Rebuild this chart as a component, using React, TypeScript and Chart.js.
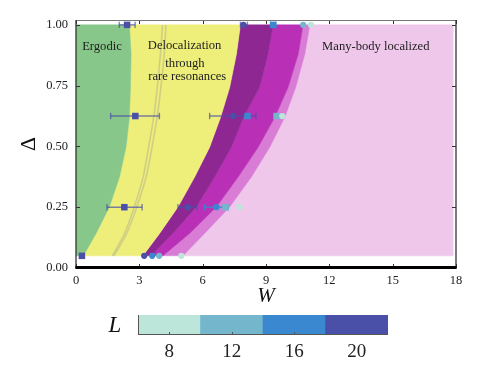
import React, { useEffect, useRef } from 'react';
import { Chart, registerables } from 'chart.js';
Chart.register(...registerables);

// ---- data ----
const deltaLevels = [0.05, 0.142, 0.251, 0.374, 0.497, 0.62, 0.743, 0.88, 1.0];
const ergodicEdgeW = [0.35, 0.95, 1.58, 2.06, 2.37, 2.53, 2.58, 2.61, 2.53];
const rareEdgeW = [3.17, 3.96, 4.83, 5.62, 6.33, 6.85, 7.28, 7.6, 7.79];
const mbl20EdgeW = [3.56, 4.59, 5.7, 6.57, 7.36, 7.94, 8.7, 9.1, 9.34];
const mbl16EdgeW = [4.12, 5.38, 6.65, 7.68, 8.63, 9.42, 10.05, 10.53, 10.76];
const mbl12EdgeW = [5.07, 6.09, 7.28, 8.31, 9.18, 9.89, 10.41, 10.84, 11.08];
const plotRightW = 17.85;
const grayLineAW = [1.72, 2.3, 2.76, 3.18, 3.44, 3.68, 3.85, 4.0, 4.1];
const grayLineBW = [1.8, 2.4, 2.88, 3.32, 3.6, 3.84, 4.02, 4.18, 4.26];

const sizes = [8, 12, 16, 20];
const sizeColors = ['#bbe6d9', '#74b7cc', '#3a88d0', '#4a4fa8'];

// markers: [W, Delta]
const l20Squares = [[0.28, 0.05], [2.29, 0.25], [2.81, 0.625], [2.42, 1.0]];
const l20Circles = [[3.23, 0.05], [5.29, 0.25], [7.44, 0.625], [7.93, 1.0]];
const l16Circles = [[3.61, 0.05], [6.65, 0.25]];
const l16Squares = [[8.12, 0.625], [9.34, 1.0]];
const l12Circles = [[3.94, 0.05], [10.76, 1.0]];
const l12Squares = [[7.08, 0.25], [9.5, 0.625]];
const l8Circles = [[4.99, 0.05], [7.75, 0.25], [9.77, 0.625], [11.13, 1.0]];

// error bars: [Wlow, Whigh, Delta]
const l20ErrBars = [[2.05, 2.8, 1.0], [1.64, 3.95, 0.625], [1.47, 3.13, 0.25], [7.79, 8.12, 1.0], [6.33, 8.52, 0.625], [4.83, 5.73, 0.25]];
const l16ErrBars = [[9.22, 9.46, 1.0], [6.09, 7.2, 0.25]];

const xTickValues = [0, 3, 6, 9, 12, 15, 18];
const yTickValues = [0, 0.25, 0.5, 0.75, 1.0];

const regionColors = ['#87c78a', '#eeee7a', '#8e2791', '#b92fb6', '#d97cd6', '#efc7eb'];
const regionLabels = ['Ergodic', 'Delocalization', 'through', 'rare resonances', 'Many-body localized'];
const regionLabelW = [1.23, 5.14, 5.16, 5.27, 14.2];
const regionLabelDelta = [0.911, 0.913, 0.842, 0.787, 0.91];

const SERIF = '"Liberation Serif", "DejaVu Serif", serif';

const edge = (ws: number[]) => ws.map((w, i) => ({ x: w, y: deltaLevels[i] }));
const closeShape = (pts: { x: number; y: number }[]) => [...pts, pts[0]];

function buildRegions() {
  const lo = deltaLevels[0];
  const hi = deltaLevels[deltaLevels.length - 1];
  const shapes = [
    closeShape([{ x: 0, y: lo }, ...edge(ergodicEdgeW), { x: 0, y: hi }]),
    closeShape([...edge(ergodicEdgeW), ...edge(rareEdgeW).reverse()]),
    closeShape([...edge(rareEdgeW), ...edge(mbl20EdgeW).reverse()]),
    closeShape([...edge(mbl20EdgeW), ...edge(mbl16EdgeW).reverse()]),
    closeShape([...edge(mbl16EdgeW), ...edge(mbl12EdgeW).reverse()]),
    closeShape([...edge(mbl12EdgeW), { x: plotRightW, y: hi }, { x: plotRightW, y: lo }]),
  ];
  return shapes.map((data, i) => ({
    data,
    fill: 'shape',
    backgroundColor: regionColors[i],
    borderColor: regionColors[i],
    borderWidth: 0.5,
    pointRadius: 0,
    tension: 0,
    order: 20,
  }));
}

function markerSet(pts: number[][], color: string, style: string) {
  return {
    data: pts.map(([x, y]) => ({ x, y })),
    showLine: false,
    pointStyle: style,
    pointRadius: style === 'rect' ? 4.6 : 3.1,
    backgroundColor: color,
    borderColor: color,
    borderWidth: 0,
    order: 1,
  };
}

function errSets(bars: number[][], color: string) {
  return bars.map(([a, b, y]) => ({
    data: [{ x: a, y }, { x: b, y }],
    borderColor: color,
    backgroundColor: color,
    borderWidth: 1.4,
    pointStyle: 'line',
    rotation: 90,
    pointRadius: 3.2,
    pointBorderWidth: 1.4,
    fill: false,
    order: 3,
  }));
}

const mainOverlay = {
  id: 'mainOverlay',
  afterDatasetsDraw(chart: any) {
    const { ctx, chartArea: a, scales } = chart;
    const x = scales.x, y = scales.y;
    ctx.save();
    // region labels
    ctx.fillStyle = '#222';
    ctx.font = `12.6px ${SERIF}`;
    ctx.textAlign = 'center';
    ctx.textBaseline = 'middle';
    regionLabels.forEach((t, i) => {
      ctx.fillText(t, x.getPixelForValue(regionLabelW[i]), y.getPixelForValue(regionLabelDelta[i]));
    });
    // inward ticks
    ctx.strokeStyle = '#333';
    ctx.lineWidth = 1;
    const tl = 4;
    ctx.beginPath();
    xTickValues.forEach((v) => {
      const px = Math.round(x.getPixelForValue(v)) + 0.5;
      ctx.moveTo(px, a.bottom); ctx.lineTo(px, a.bottom - tl);
      ctx.moveTo(px, a.top); ctx.lineTo(px, a.top + tl);
    });
    yTickValues.forEach((v) => {
      const py = Math.round(y.getPixelForValue(v)) + 0.5;
      ctx.moveTo(a.left, py); ctx.lineTo(a.left + tl, py);
      ctx.moveTo(a.right, py); ctx.lineTo(a.right - tl, py);
    });
    ctx.stroke();
    // frame
    ctx.strokeStyle = '#777';
    ctx.lineWidth = 1;
    ctx.beginPath();
    ctx.moveTo(a.left, a.top + 0.5); ctx.lineTo(a.right, a.top + 0.5);
    ctx.stroke();
    ctx.strokeStyle = '#333';
    ctx.lineWidth = 1.3;
    ctx.beginPath();
    ctx.moveTo(a.left, a.top); ctx.lineTo(a.left, a.bottom);
    ctx.moveTo(a.right, a.top); ctx.lineTo(a.right, a.bottom);
    ctx.stroke();
    ctx.strokeStyle = '#000';
    ctx.lineWidth = 3;
    ctx.beginPath();
    ctx.moveTo(a.left - 0.6, a.bottom - 0.5); ctx.lineTo(a.right + 0.6, a.bottom - 0.5);
    ctx.stroke();
    ctx.restore();
  },
};

const barOverlay = {
  id: 'barOverlay',
  afterDatasetsDraw(chart: any) {
    const { ctx, chartArea: a, scales } = chart;
    ctx.save();
    ctx.strokeStyle = '#555';
    ctx.lineWidth = 1;
    ctx.beginPath();
    sizes.forEach((v) => {
      const px = Math.round(scales.x.getPixelForValue(v)) + 0.5;
      ctx.moveTo(px, a.bottom); ctx.lineTo(px, a.bottom - 3);
    });
    ctx.moveTo(a.left + 0.5, a.top); ctx.lineTo(a.left + 0.5, a.bottom);
    ctx.moveTo(a.left, a.bottom - 0.5); ctx.lineTo(a.right, a.bottom - 0.5);
    ctx.stroke();
    // colour-bar label
    ctx.fillStyle = '#111';
    ctx.font = `italic 23px ${SERIF}`;
    ctx.textAlign = 'center';
    ctx.textBaseline = 'middle';
    ctx.fillText('L', a.left - 23, (a.top + a.bottom) / 2 + 1);
    ctx.restore();
  },
};

export default function App() {
  const mainRef = useRef<HTMLCanvasElement>(null);
  const barRef = useRef<HTMLCanvasElement>(null);

  useEffect(() => {
    const grayLine = (ws: number[]) => ({
      data: edge(ws),
      borderColor: 'rgba(150,150,150,0.35)',
      borderWidth: 1.6,
      pointRadius: 0,
      fill: false,
      tension: 0.3,
      order: 10,
    });
    const datasets: any[] = [
      ...buildRegions(),
      grayLine(grayLineAW),
      grayLine(grayLineBW),
      ...errSets(l20ErrBars, 'rgba(74,79,168,0.7)'),
      ...errSets(l16ErrBars, 'rgba(58,136,208,0.85)'),
      markerSet(l8Circles, sizeColors[0], 'circle'),
      markerSet(l12Circles, sizeColors[1], 'circle'),
      markerSet(l12Squares, sizeColors[1], 'rect'),
      markerSet(l16Circles, sizeColors[2], 'circle'),
      markerSet(l16Squares, sizeColors[2], 'rect'),
      markerSet(l20Circles, sizeColors[3], 'circle'),
      markerSet(l20Squares, sizeColors[3], 'rect'),
    ];
    const main = new Chart(mainRef.current!, {
      type: 'line',
      data: { datasets },
      plugins: [mainOverlay],
      options: {
        animation: false,
        responsive: true,
        maintainAspectRatio: false,
        layout: { padding: { left: 0, right: 27, top: 20, bottom: 0 } },
        plugins: { legend: { display: false }, tooltip: { enabled: false } },
        events: [],
        scales: {
          x: {
            type: 'linear',
            min: 0,
            max: 18,
            afterBuildTicks: (s: any) => { s.ticks = xTickValues.map((value) => ({ value })); },
            afterFit: (s: any) => { s.height = 42; },
            ticks: { color: '#222', font: { family: SERIF, size: 12.5 }, padding: 5, maxRotation: 0 },
            grid: { display: false, drawTicks: false },
            border: { display: false },
            title: { display: true, text: 'W', color: '#111', font: { family: SERIF, size: 21, style: 'italic' }, padding: { top: 0, bottom: 1 } },
          },
          y: {
            type: 'linear',
            min: 0,
            max: 1.02,
            afterBuildTicks: (s: any) => { s.ticks = yTickValues.map((value) => ({ value })); },
            afterFit: (s: any) => { s.width = 76; },
            ticks: { color: '#222', font: { family: SERIF, size: 12.5 }, padding: 8, callback: (v: any) => Number(v).toFixed(2) },
            grid: { display: false, drawTicks: false },
            border: { display: false },
            title: { display: true, text: 'Δ', color: '#111', font: { family: SERIF, size: 22 }, padding: { top: 16, bottom: 0 } },
          },
        },
      } as any,
    });

    const bar = new Chart(barRef.current!, {
      type: 'bar',
      data: {
        datasets: [
          {
            data: sizes.map((v) => ({ x: v, y: 1 })),
            backgroundColor: sizeColors,
            borderWidth: 0,
            barPercentage: 1,
            categoryPercentage: 1,
          },
        ] as any,
      },
      plugins: [barOverlay],
      options: {
        animation: false,
        responsive: true,
        maintainAspectRatio: false,
        events: [],
        layout: { padding: { left: 138, right: 95, top: 10, bottom: 0 } },
        plugins: { legend: { display: false }, tooltip: { enabled: false } },
        scales: {
          x: {
            type: 'linear',
            min: 6,
            max: 22,
            offset: false,
            afterBuildTicks: (s: any) => { s.ticks = sizes.map((value) => ({ value })); },
            afterFit: (s: any) => { s.height = 44; },
            ticks: { color: '#222', font: { family: SERIF, size: 19 }, padding: 6 },
            grid: { display: false, drawTicks: false, offset: false },
            border: { display: false },
          },
          y: {
            type: 'linear',
            min: 0,
            max: 1,
            display: false,
          },
        },
      } as any,
    });

    return () => { main.destroy(); bar.destroy(); };
  }, []);

  return (
    <div style={{ position: 'fixed', left: 0, top: 0, width: 483, height: 379, background: '#fff' }}>
      <div style={{ position: 'absolute', left: 0, top: 0, width: 483, height: 310 }}>
        <canvas ref={mainRef} />
      </div>
      <div style={{ position: 'absolute', left: 0, top: 305, width: 483, height: 74 }}>
        <canvas ref={barRef} />
      </div>
    </div>
  );
}
